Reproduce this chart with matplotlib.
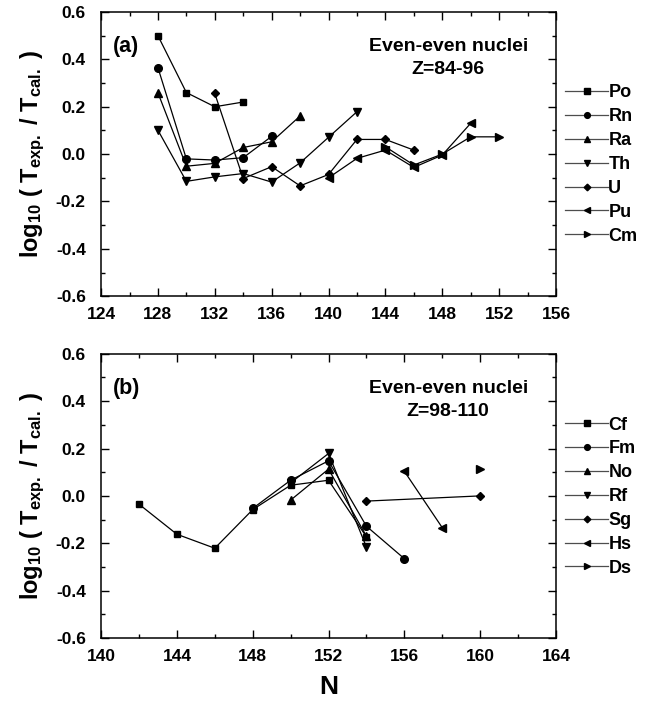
import numpy as np
import matplotlib
matplotlib.use("Agg")
import matplotlib.pyplot as plt
from matplotlib.ticker import MultipleLocator

plt.rcParams['font.family'] = ['Liberation Sans', 'DejaVu Sans']
plt.rcParams['font.weight'] = 'bold'
plt.rcParams['mathtext.fontset'] = 'custom'
plt.rcParams['mathtext.rm'] = 'Liberation Sans:bold'
plt.rcParams['mathtext.it'] = 'Liberation Sans:bold'
plt.rcParams['mathtext.bf'] = 'Liberation Sans:bold'

# panel (a) Z=84-96
po_n = [128, 130, 132, 134]
po_v = [0.50, 0.26, 0.20, 0.22]
rn_n = [128, 130, 132, 134, 136]
rn_v = [0.365, -0.020, -0.025, -0.015, 0.075]
ra_n = [128, 130, 132, 134, 136, 138]
ra_v = [0.259, -0.051, -0.039, 0.028, 0.052, 0.161]
th_n = [128, 130, 132, 134, 136, 138, 140, 142]
th_v = [0.101, -0.115, -0.096, -0.082, -0.118, -0.037, 0.071, 0.179]
u_n = [132, 134, 136, 138, 140, 142, 144, 146]
u_v = [0.256, -0.103, -0.053, -0.134, -0.086, 0.062, 0.062, 0.017]
pu_n = [140, 142, 144, 146, 148, 150]
pu_v = [-0.100, -0.018, 0.017, -0.056, -0.004, 0.130]
cm_n = [144, 146, 148, 150, 152]
cm_v = [0.031, -0.046, 0.000, 0.073, 0.073]

# panel (b) Z=98-110
cf_n = [142, 144, 146, 148, 150, 152, 154]
cf_v = [-0.035, -0.162, -0.221, -0.058, 0.045, 0.066, -0.173]
fm_n = [148, 150, 152, 154, 156]
fm_v = [-0.053, 0.066, 0.148, -0.128, -0.265]
no_n = [150, 152, 154]
no_v = [-0.018, 0.113, -0.170]
rf_n = [150, 152, 154]
rf_v = [0.055, 0.179, -0.216]
sg_n = [154, 160]
sg_v = [-0.022, 0.000]
hs_n = [156, 158]
hs_v = [0.104, -0.134]
ds_n = [160]
ds_v = [0.112]

markers = ['s', 'o', '^', 'v', 'D', '<', '>']
msizes = [5, 5.5, 5.5, 5.5, 4.5, 5.5, 5.5]

panel_a = [('Po', po_n, po_v), ('Rn', rn_n, rn_v), ('Ra', ra_n, ra_v),
           ('Th', th_n, th_v), ('U', u_n, u_v), ('Pu', pu_n, pu_v),
           ('Cm', cm_n, cm_v)]
panel_b = [('Cf', cf_n, cf_v), ('Fm', fm_n, fm_v), ('No', no_n, no_v),
           ('Rf', rf_n, rf_v), ('Sg', sg_n, sg_v), ('Hs', hs_n, hs_v),
           ('Ds', ds_n, ds_v)]

fig = plt.figure(figsize=(6.65, 7.07), dpi=100)
ax1 = fig.add_axes([0.152, 0.581, 0.684, 0.402])
ax2 = fig.add_axes([0.152, 0.0976, 0.684, 0.402])

def draw(ax, series, xlim, label, ztext, leg_y):
    for (name, n, v), m, ms in zip(series, markers, msizes):
        ax.plot(n, v, color='black', lw=0.9, marker=m, ms=ms, label=name)
    ax.set_xlim(*xlim)
    ax.set_ylim(-0.6, 0.6)
    ax.xaxis.set_major_locator(MultipleLocator(4))
    ax.xaxis.set_minor_locator(MultipleLocator(2))
    ax.yaxis.set_major_locator(MultipleLocator(0.2))
    ax.yaxis.set_minor_locator(MultipleLocator(0.1))
    ax.tick_params(which='both', direction='in', top=True, right=True,
                   labelsize=12.5, width=1)
    ax.tick_params(which='major', length=6)
    ax.tick_params(which='minor', length=3)
    ax.tick_params(axis='x', pad=8)
    ax.tick_params(axis='y', pad=11)
    ax.yaxis.set_major_formatter(plt.FuncFormatter(lambda y, p: '%.1f' % y))
    for s in ax.spines.values():
        s.set_linewidth(1.1)
    ax.text(0.026, 0.877, label, transform=ax.transAxes, fontsize=15.5,
            fontweight='bold', va='center')
    ax.text(0.763, 0.877, 'Even-even nuclei', transform=ax.transAxes,
            fontsize=14, fontweight='bold', ha='center', va='center')
    ax.text(0.763, 0.797, ztext, transform=ax.transAxes,
            fontsize=14, fontweight='bold', ha='center', va='center')
    ax.set_ylabel(r'log$_{10}$ ( T$_{exp.}$ / T$_{cal.}$ )', fontsize=17,
                  fontweight='bold', labelpad=6)
    leg = ax.legend(loc='upper left', bbox_to_anchor=(1.02, leg_y),
                    frameon=False, fontsize=13, handlelength=2.4,
                    handletextpad=0.0, labelspacing=0.38, borderaxespad=0.0,
                    borderpad=0.0, markerscale=0.75)
    for h in leg.get_lines():
        h.set_color('0.3')
        h.set_markerfacecolor('black')
        h.set_markeredgecolor('black')

draw(ax1, panel_a, (124, 156), '(a)', 'Z=84-96', 0.745)
draw(ax2, panel_b, (140, 164), '(b)', 'Z=98-110', 0.779)
ax2.set_xlabel('N', fontsize=19, fontweight='bold', labelpad=8)

fig.savefig('out.png', dpi=100)
